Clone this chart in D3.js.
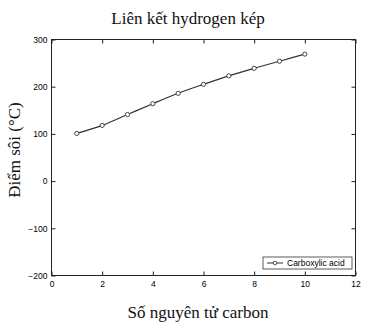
<!DOCTYPE html>
<html>
<head>
<meta charset="utf-8">
<script src="https://cdn.jsdelivr.net/npm/d3@7"></script>
<style>
  body { margin: 0; background: #fff; }
  svg { display: block; }
</style>
</head>
<body>
<svg id="chart" width="366" height="324"></svg>
<script>
const carbonCounts = [1, 2, 3, 4, 5, 6, 7, 8, 9, 10];
const boilingPoints = [101, 118, 141, 164, 186, 205, 223, 239, 254, 269];
const xTicks = [0, 2, 4, 6, 8, 10, 12];
const yTicks = [-200, -100, 0, 100, 200, 300];
const seriesName = "Carboxylic acid";

const svg = d3.select("#chart");
const plotLeft = 51.5, plotRight = 355.5, plotTop = 39.5, plotBottom = 275.5;

const x = d3.scaleLinear().domain([0, 12]).range([plotLeft, plotRight]);
const y = d3.scaleLinear().domain([-200, 300]).range([plotBottom, plotTop]);

const tickFont = "Liberation Sans, Arial, sans-serif";
const serif = "Liberation Serif, Times New Roman, serif";

// frame
svg.append("rect")
  .attr("x", plotLeft).attr("y", plotTop)
  .attr("width", plotRight - plotLeft).attr("height", plotBottom - plotTop)
  .attr("fill", "none").attr("stroke", "#222").attr("stroke-width", 1);

// inward ticks on all sides
const bottomAxis = svg.append("g")
  .attr("transform", `translate(0,${plotBottom})`)
  .call(d3.axisBottom(x).tickValues(xTicks).tickSize(-4).tickPadding(5).tickFormat(d3.format("d")));
const topAxis = svg.append("g")
  .attr("transform", `translate(0,${plotTop})`)
  .call(d3.axisTop(x).tickValues(xTicks).tickSize(-4).tickFormat(""));
const leftAxis = svg.append("g")
  .attr("transform", `translate(${plotLeft},0)`)
  .call(d3.axisLeft(y).tickValues(yTicks).tickSize(-4).tickPadding(4).tickFormat(d => d < 0 ? "\u2212" + Math.abs(d) : d));
const rightAxis = svg.append("g")
  .attr("transform", `translate(${plotRight},0)`)
  .call(d3.axisRight(y).tickValues(yTicks).tickSize(-4).tickFormat(""));

[bottomAxis, topAxis, leftAxis, rightAxis].forEach(g => {
  g.select(".domain").remove();
  g.selectAll("line").attr("stroke", "#222");
  g.selectAll("text").attr("font-family", tickFont).attr("font-size", 8.5).attr("fill", "#000");
});

// series
const line = d3.line().x((d, i) => x(carbonCounts[i])).y(d => y(d)).curve(d3.curveMonotoneX);
svg.append("path")
  .datum(boilingPoints)
  .attr("d", line)
  .attr("fill", "none")
  .attr("stroke", "#333")
  .attr("stroke-width", 1.2);

svg.selectAll("circle.pt")
  .data(boilingPoints)
  .join("circle")
  .attr("class", "pt")
  .attr("cx", (d, i) => x(carbonCounts[i]))
  .attr("cy", d => y(d))
  .attr("r", 2.1)
  .attr("fill", "#fff")
  .attr("stroke", "#333")
  .attr("stroke-width", 0.9);

// legend
const lg = svg.append("g").attr("transform", "translate(263,257)");
lg.append("rect").attr("width", 89).attr("height", 12)
  .attr("fill", "#fff").attr("stroke", "#333").attr("stroke-width", 0.8);
lg.append("line").attr("x1", 4).attr("x2", 20).attr("y1", 6).attr("y2", 6)
  .attr("stroke", "#333").attr("stroke-width", 1);
lg.append("circle").attr("cx", 12).attr("cy", 6).attr("r", 1.8)
  .attr("fill", "#fff").attr("stroke", "#333").attr("stroke-width", 0.8);
lg.append("text").attr("x", 24).attr("y", 9)
  .attr("font-family", tickFont).attr("font-size", 8.5).attr("fill", "#000")
  .text(seriesName);

// titles
svg.append("text")
  .attr("x", 188).attr("y", 24)
  .attr("text-anchor", "middle")
  .attr("font-family", serif).attr("font-size", 17).attr("fill", "#111")
  .text("Liên kết hydrogen kép");

svg.append("text")
  .attr("x", 198).attr("y", 318)
  .attr("text-anchor", "middle")
  .attr("font-family", serif).attr("font-size", 17).attr("fill", "#111")
  .text("Số nguyên tử carbon");

svg.append("text")
  .attr("transform", "translate(20,150) rotate(-90)")
  .attr("text-anchor", "middle")
  .attr("font-family", serif).attr("font-size", 17).attr("fill", "#111")
  .text("Điểm sôi (°C)");
</script>
</body>
</html>
